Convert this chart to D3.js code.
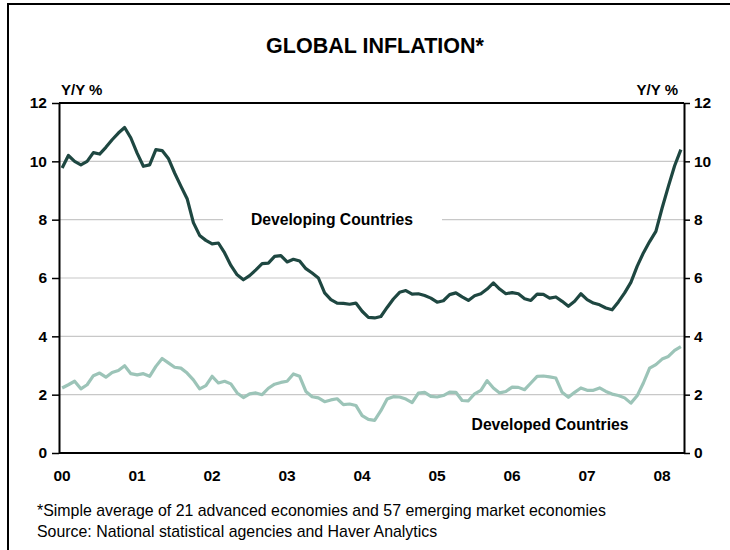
<!DOCTYPE html>
<html><head><meta charset="utf-8">
<script src="https://cdn.jsdelivr.net/npm/d3@7"></script>
<style>
body{margin:0;background:#fff;}
svg{display:block;font-family:"Liberation Sans",Arial,sans-serif;}
</style></head>
<body><svg id="c" width="730" height="550"></svg>
<script>
// Monthly data, Jan 2000 - Apr 2008 (Y/Y %)
const months = d3.range(100);
const developing = [9.77,10.2,10.0,9.88,10.0,10.3,10.25,10.48,10.74,10.97,
11.16,10.8,10.28,9.83,9.88,10.4,10.37,10.1,9.6,9.15,
8.72,7.9,7.46,7.29,7.17,7.2,6.86,6.43,6.11,5.94,
6.08,6.28,6.49,6.51,6.74,6.77,6.55,6.64,6.58,6.32,
6.17,6.0,5.49,5.26,5.14,5.13,5.1,5.14,4.86,4.65,
4.63,4.68,4.99,5.28,5.51,5.57,5.45,5.46,5.4,5.31,
5.17,5.22,5.43,5.49,5.35,5.23,5.39,5.46,5.62,5.83,
5.62,5.46,5.5,5.46,5.29,5.23,5.45,5.44,5.31,5.35,
5.2,5.03,5.2,5.46,5.26,5.14,5.08,4.97,4.91,5.18,
5.49,5.85,6.4,6.86,7.25,7.6,8.4,9.14,9.85,10.4];
const developed = [2.23,2.34,2.46,2.2,2.34,2.65,2.74,2.6,2.76,2.83,
2.99,2.72,2.68,2.72,2.63,2.97,3.24,3.09,2.94,2.91,
2.74,2.51,2.2,2.31,2.63,2.4,2.46,2.37,2.06,1.9,
2.03,2.06,2.0,2.22,2.36,2.42,2.46,2.71,2.63,2.11,
1.93,1.89,1.76,1.82,1.86,1.66,1.68,1.63,1.28,1.15,
1.12,1.45,1.85,1.93,1.92,1.85,1.73,2.05,2.08,1.94,
1.92,1.97,2.09,2.08,1.8,1.79,2.03,2.15,2.48,2.23,
2.06,2.11,2.26,2.25,2.17,2.4,2.63,2.64,2.61,2.57,
2.08,1.91,2.08,2.23,2.15,2.15,2.23,2.11,2.02,1.97,
1.89,1.71,1.96,2.4,2.91,3.03,3.22,3.31,3.52,3.65];
const yearLabels = ["00","01","02","03","04","05","06","07","08"];
const yTicks = [0,2,4,6,8,10,12];
const title = "GLOBAL INFLATION*";
const seriesNames = ["Developing Countries","Developed Countries"];
const notes = ["*Simple average of 21 advanced economies and 57 emerging market economies",
"Source: National statistical agencies and Haver Analytics"];

const svg = d3.select("#c");
const L = 59, R = 684, T = 103, B = 453;
const x = d3.scaleBand().domain(months).range([L, R]).padding(0);
const xc = i => x(i) + x.bandwidth()/2;
const y = d3.scaleLinear().domain([0,12]).range([B, T]);

// frame
svg.append("path").attr("d", `M8,550 V4 H730`).attr("fill","none").attr("stroke","#000").attr("stroke-width",2);

// title
svg.append("text").attr("x",375).attr("y",53).attr("text-anchor","middle")
  .attr("font-size",21.5).attr("font-weight","bold").text(title);

// gridlines
const grid = svg.append("g");
[2,4,6,10].forEach(v=>{
  grid.append("line").attr("x1",L).attr("x2",R).attr("y1",y(v)).attr("y2",y(v))
    .attr("stroke","#c8c8c8").attr("stroke-width",1.2);
});
grid.append("line").attr("x1",L).attr("x2",223).attr("y1",y(8)).attr("y2",y(8)).attr("stroke","#c8c8c8").attr("stroke-width",1.2);
grid.append("line").attr("x1",442).attr("x2",R).attr("y1",y(8)).attr("y2",y(8)).attr("stroke","#c8c8c8").attr("stroke-width",1.2);

// top line
svg.append("line").attr("x1",L).attr("x2",R).attr("y1",T).attr("y2",T).attr("stroke","#000").attr("stroke-width",2);

// axes
const yl = svg.append("g").attr("transform",`translate(${L},0)`)
  .call(d3.axisLeft(y).tickValues(yTicks).tickSize(7).tickSizeOuter(0).tickPadding(5));
const yr = svg.append("g").attr("transform",`translate(${R},0)`)
  .call(d3.axisRight(y).tickValues(yTicks).tickSize(6).tickSizeOuter(0).tickPadding(4));
const xa = svg.append("g").attr("transform",`translate(0,${B})`)
  .call(d3.axisBottom(x).tickValues(months.filter(m=>m%12===0)).tickSize(0).tickPadding(17)
    .tickFormat(m=>yearLabels[m/12]));
[yl,yr,xa].forEach(g=>{
  g.selectAll("path.domain").attr("stroke","#000").attr("stroke-width",2);
  g.selectAll(".tick line").attr("stroke","#000").attr("stroke-width",1.5);
  g.selectAll("text").attr("font-size",15.5).attr("font-weight","bold").attr("fill","#000")
    .attr("font-family","'Liberation Sans',Arial,sans-serif");
});
xa.select("path.domain").attr("d",`M${L},0H${R}`);

// unit labels
svg.append("text").attr("x",61).attr("y",95).attr("font-size",15).attr("font-weight","bold").text("Y/Y %");
svg.append("text").attr("x",678).attr("y",95).attr("text-anchor","end").attr("font-size",15).attr("font-weight","bold").text("Y/Y %");

// lines
const line = d3.line().x((d,i)=>xc(i)).y(d=>y(d));
svg.append("path").datum(developed).attr("d",line).attr("fill","none")
  .attr("stroke","#9cc4b8").attr("stroke-width",3.2).attr("stroke-linejoin","round");
svg.append("path").datum(developing).attr("d",line).attr("fill","none")
  .attr("stroke","#1e4741").attr("stroke-width",3.2).attr("stroke-linejoin","round");

// series labels
svg.append("text").attr("x",332).attr("y",225).attr("text-anchor","middle")
  .attr("font-size",15.7).attr("font-weight","bold").text(seriesNames[0]);
svg.append("text").attr("x",550).attr("y",430).attr("text-anchor","middle")
  .attr("font-size",15.7).attr("font-weight","bold").text(seriesNames[1]);

// notes
notes.forEach((t,i)=>{
  svg.append("text").attr("x",37).attr("y",516+i*21).attr("font-size",15.9).text(t);
});
</script></body></html>
